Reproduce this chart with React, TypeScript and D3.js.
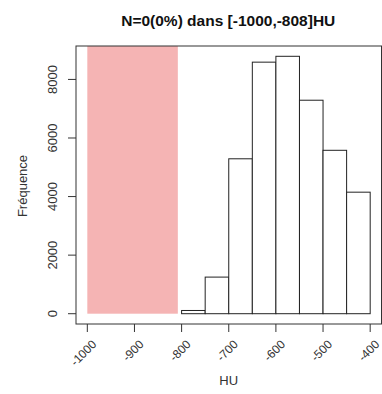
import React from "react";
import * as d3 from "d3";

const breaks = [-1000, -950, -900, -850, -800, -750, -700, -650, -600, -550, -500, -450, -400];
const counts = [0, 0, 0, 0, 110, 1250, 5290, 8590, 8790, 7290, 5580, 4150];
const highlight = [-1000, -808];
const xTicks = [-1000, -900, -800, -700, -600, -500, -400];
const yTicks = [0, 2000, 4000, 6000, 8000];
const title = "N=0(0%) dans [-1000,-808]HU";
const xLabel = "HU";
const yLabel = "Fréquence";

const W = 382;
const H = 394;
const box = { left: 76, right: 381.5, top: 46, bottom: 324 };
const font = "'Liberation Sans', Arial, sans-serif";

export default function App() {
  const xMin = breaks[0];
  const xMax = breaks[breaks.length - 1];
  const xPad = (xMax - xMin) * 0.04;
  const x = d3.scaleLinear().domain([xMin - xPad, xMax + xPad]).range([box.left, box.right]);
  const yMax = d3.max(counts) as number;
  const y = d3.scaleLinear().domain([-0.04 * yMax, yMax * 1.04]).range([box.bottom, box.top]);

  const bins = counts.map((c, i) => ({ x0: breaks[i], x1: breaks[i + 1], c }));

  return (
    <svg width={W} height={H} style={{ position: "absolute", left: 0, top: 0, background: "#fff" }}>
      <rect x={0} y={0} width={W} height={H} fill="#fff" />
      <text x={(box.left + box.right) / 2 - 0.5} y={26} textAnchor="middle" fontFamily={font} fontWeight="bold" fontSize={15.5} fill="#111">
        {title}
      </text>
      {bins.map((b, i) => (
        <rect
          key={i}
          x={x(b.x0)}
          y={y(b.c)}
          width={x(b.x1) - x(b.x0)}
          height={y(0) - y(b.c)}
          fill="#fff"
          stroke="#222"
          strokeWidth={1}
        />
      ))}
      <rect
        x={x(highlight[0])}
        y={box.top}
        width={x(highlight[1]) - x(highlight[0])}
        height={y(0) - box.top}
        fill="#f5b4b4"
      />
      <rect x={box.left} y={box.top} width={box.right - box.left} height={box.bottom - box.top} fill="none" stroke="#333" strokeWidth={1} />
      {xTicks.map((t) => (
        <g key={t}>
          <line x1={x(t)} x2={x(t)} y1={box.bottom} y2={box.bottom + 8} stroke="#333" />
          <text
            transform={`translate(${x(t) + 7},${box.bottom + 18}) rotate(-45)`}
            textAnchor="end"
            dy="0.35em"
            fontFamily={font}
            fontSize={12}
            fill="#333"
          >
            {t}
          </text>
        </g>
      ))}
      {yTicks.map((t) => (
        <g key={t}>
          <line x1={box.left - 8} x2={box.left} y1={y(t)} y2={y(t)} stroke="#333" />
          <text
            transform={`translate(${box.left - 24},${y(t)}) rotate(-90)`}
            textAnchor="middle"
            dy="0.35em"
            fontFamily={font}
            fontSize={13}
            fill="#333"
          >
            {t}
          </text>
        </g>
      ))}
      <text x={(box.left + box.right) / 2} y={385} textAnchor="middle" fontFamily={font} fontSize={13} fill="#333">
        {xLabel}
      </text>
      <text
        transform={`translate(22,${(box.top + box.bottom) / 2 + 1}) rotate(-90)`}
        textAnchor="middle"
        dy="0.35em"
        fontFamily={font}
        fontSize={13}
        fill="#333"
      >
        {yLabel}
      </text>
    </svg>
  );
}
